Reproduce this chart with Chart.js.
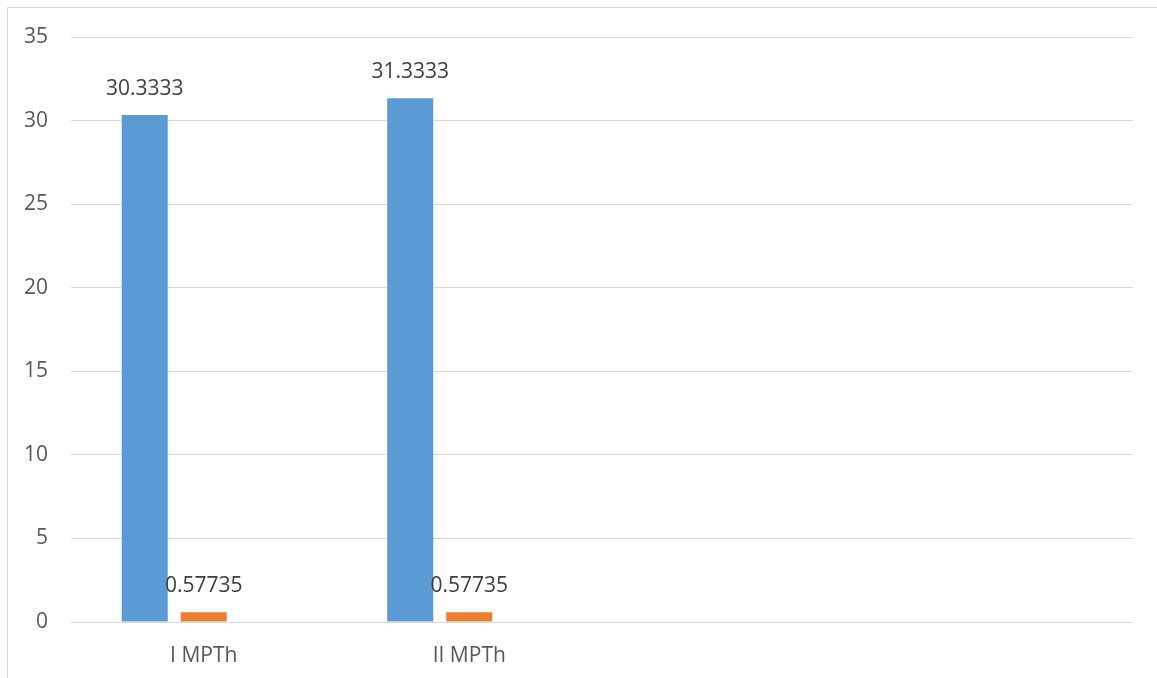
<!DOCTYPE html>
<html>
<head>
<meta charset="utf-8">
<script src="https://cdn.jsdelivr.net/npm/chart.js@4"></script>
<style>
  html, body { margin: 0; padding: 0; background: #fff; }
  #wrap { width: 1157px; height: 678px; position: relative; }
</style>
</head>
<body>
<div id="wrap"><canvas id="myChart"></canvas></div>
<script>
  // categories (last two are empty slots in the original sheet)
  const labels = ['I MPTh', 'II MPTh', '', ''];
  const serie1 = [30.3333, 31.3333, null, null];
  const serie2 = [0.57735, 0.57735, null, null];
  const serie3 = [null, null, null, null];
  const yTicks = [0, 5, 10, 15, 20, 25, 30, 35];

  const fontFam = '"Open Sans", "Noto Sans", sans-serif';

  // frame of the chart object, top and left edges only are visible
  const framePlugin = {
    id: 'frame',
    beforeDraw(chart) {
      const ctx = chart.ctx;
      ctx.save();
      ctx.strokeStyle = '#d9d9d9';
      ctx.lineWidth = 1;
      ctx.beginPath();
      ctx.moveTo(7.5, chart.height);
      ctx.lineTo(7.5, 7.5);
      ctx.lineTo(chart.width, 7.5);
      ctx.stroke();
      ctx.restore();
    }
  };

  // value labels on top of bars
  const valueLabels = {
    id: 'valueLabels',
    afterDatasetsDraw(chart) {
      const ctx = chart.ctx;
      ctx.save();
      ctx.font = '21px ' + fontFam;
      ctx.fillStyle = '#404040';
      ctx.textAlign = 'center';
      ctx.textBaseline = 'middle';
      chart.data.datasets.forEach((ds, i) => {
        const meta = chart.getDatasetMeta(i);
        meta.data.forEach((bar, j) => {
          const v = ds.data[j];
          if (v === null || v === undefined) return;
          ctx.fillText(String(v), bar.x, bar.y - 26);
        });
      });
      ctx.restore();
    }
  };

  const data = {
    labels: labels,
    datasets: [
      {
        label: 'Series1',
        data: serie1,
        backgroundColor: '#5b9bd5',
        borderWidth: 0
      },
      {
        label: 'Series2',
        data: serie2,
        backgroundColor: '#ed7d31',
        borderWidth: 0
      },
      {
        label: 'Series3',
        data: serie3,
        backgroundColor: '#a5a5a5',
        borderWidth: 0
      }
    ]
  };

  const config = {
    type: 'bar',
    data: data,
    options: {
      responsive: true,
      maintainAspectRatio: false,
      animation: false,
      categoryPercentage: 0.667,
      barPercentage: 0.78,
      layout: {
        padding: { left: 0, right: 24, top: 37, bottom: 0 }
      },
      plugins: {
        legend: { display: false },
        tooltip: { enabled: false }
      },
      scales: {
        x: {
          grid: { display: false },
          border: { display: false },
          ticks: {
            color: '#595959',
            font: { family: fontFam, size: 21 },
            padding: 13,
            maxRotation: 0
          },
          afterFit(s) { s.height = 56; }
        },
        y: {
          min: 0,
          max: 35,
          afterBuildTicks(s) { s.ticks = yTicks.map(v => ({ value: v })); },
          grid: { color: '#d9d9d9', lineWidth: 1, drawTicks: false },
          border: { display: false },
          ticks: {
            color: '#595959',
            font: { family: fontFam, size: 21 },
            padding: 23
          },
          afterFit(s) { s.width = 71; }
        }
      }
    },
    plugins: [framePlugin, valueLabels]
  };

  const myChart = new Chart(document.getElementById('myChart'), config);
</script>
</body>
</html>
